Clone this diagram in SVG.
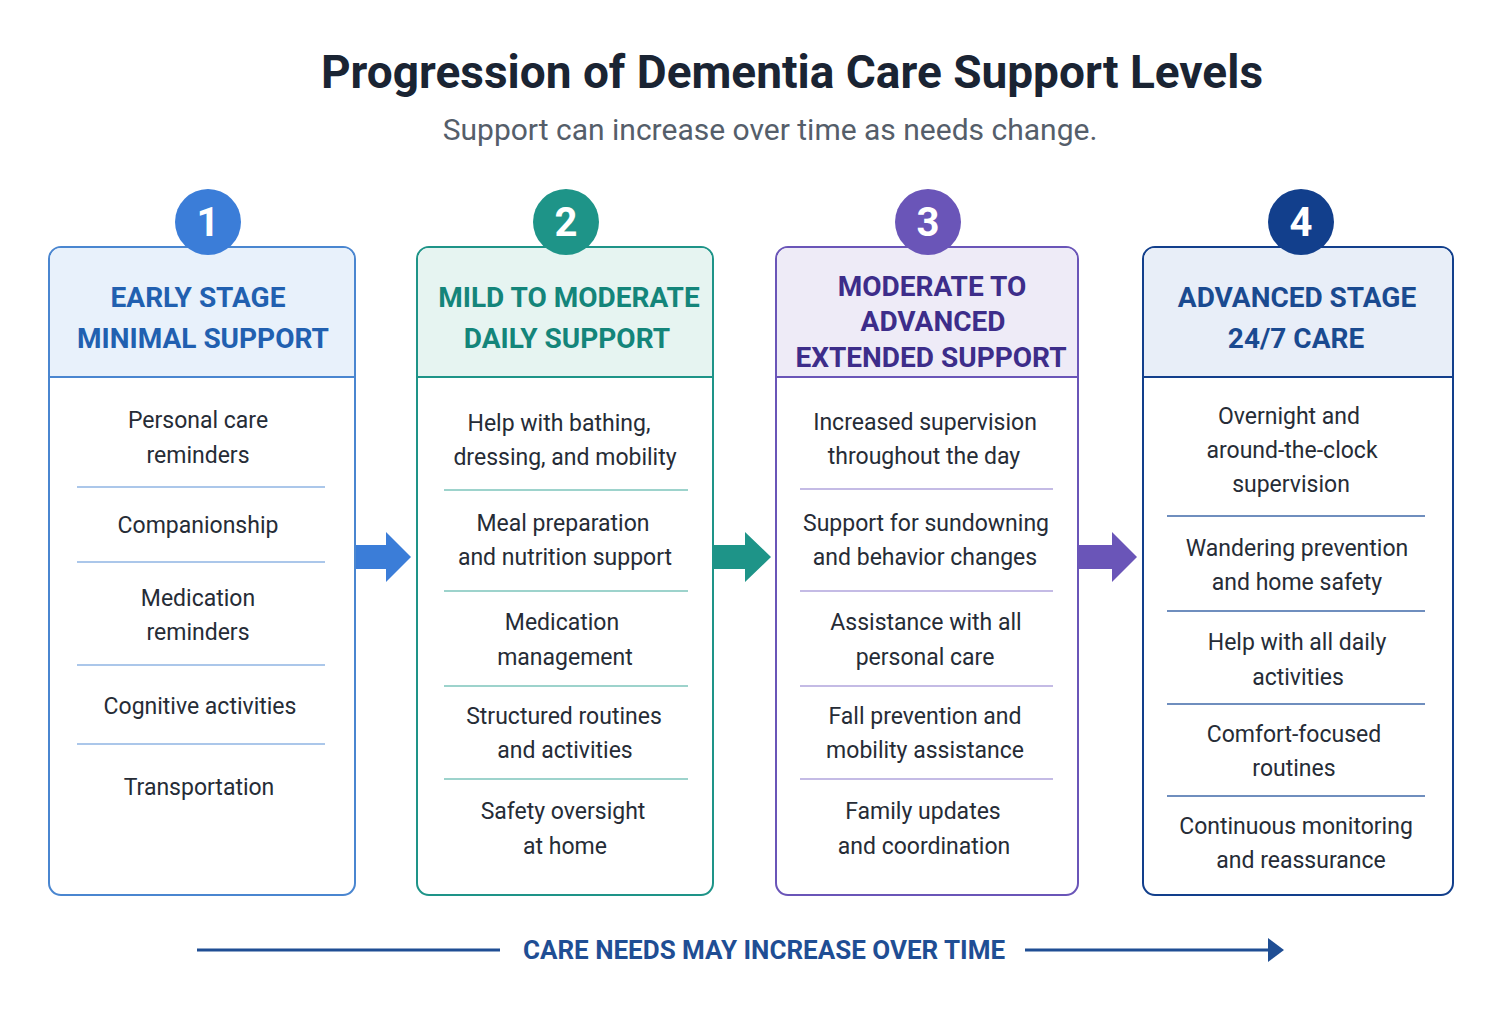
<svg xmlns="http://www.w3.org/2000/svg" width="1504" height="1009" viewBox="0 0 1504 1009">
<style>
text{font-family:Roboto,"Liberation Sans",sans-serif;text-anchor:middle}
.t{font-size:46px;font-weight:bold;fill:#1a2433}
.s{font-size:30px;fill:#555e6a}
.h{font-size:28px;font-weight:bold}
.b{font-size:23px;fill:#262c36}
.n{font-size:40px;font-weight:bold;fill:#fff}
.sep{stroke-width:1.5}
</style>
<rect width="1504" height="1009" fill="#fff"/>
<text class="t" x="792" y="88">Progression of Dementia Care Support Levels</text>
<text class="s" x="770" y="140">Support can increase over time as needs change.</text>

<g id="card1">
<rect x="49" y="247" width="306" height="648" rx="12" fill="#fff" stroke="#4a86d0" stroke-width="2"/>
<path d="M61 248H343A11 11 0 0 1 354 259V377H50V259A11 11 0 0 1 61 248Z" fill="#e8f1fb"/>
<line x1="50" y1="377" x2="354" y2="377" stroke="#4a86d0" stroke-width="2"/>
<circle cx="208" cy="222" r="33" fill="#3b7dd8"/><text class="n" x="208" y="236">1</text>
<g fill="#2160b0"><text class="h" x="198" y="307">EARLY STAGE</text><text class="h" x="203" y="348">MINIMAL SUPPORT</text></g>
<g stroke="#8fb4e3" class="sep"><line x1="77" y1="487" x2="325" y2="487"/><line x1="77" y1="562" x2="325" y2="562"/><line x1="77" y1="665" x2="325" y2="665"/><line x1="77" y1="744" x2="325" y2="744"/></g>
<text class="b" x="198" y="428">Personal care</text><text class="b" x="198" y="463">reminders</text>
<text class="b" x="198" y="533">Companionship</text>
<text class="b" x="198" y="606">Medication</text><text class="b" x="198" y="640">reminders</text>
<text class="b" x="200" y="714">Cognitive activities</text>
<text class="b" x="199" y="795">Transportation</text>
</g>

<g id="card2">
<rect x="417" y="247" width="296" height="648" rx="12" fill="#fff" stroke="#1e9488" stroke-width="2"/>
<path d="M429 248H701A11 11 0 0 1 712 259V377H418V259A11 11 0 0 1 429 248Z" fill="#e6f4f1"/>
<line x1="418" y1="377" x2="712" y2="377" stroke="#1e9488" stroke-width="2"/>
<circle cx="566" cy="222" r="33" fill="#1e9488"/><text class="n" x="566" y="236">2</text>
<g fill="#14857a"><text class="h" x="569" y="307">MILD TO MODERATE</text><text class="h" x="567" y="348">DAILY SUPPORT</text></g>
<g stroke="#7cc4bb" class="sep"><line x1="444" y1="490" x2="688" y2="490"/><line x1="444" y1="591" x2="688" y2="591"/><line x1="444" y1="686" x2="688" y2="686"/><line x1="444" y1="779" x2="688" y2="779"/></g>
<text class="b" x="559" y="431">Help with bathing,</text><text class="b" x="565" y="465">dressing, and mobility</text>
<text class="b" x="563" y="531">Meal preparation</text><text class="b" x="565" y="565">and nutrition support</text>
<text class="b" x="562" y="630">Medication</text><text class="b" x="565" y="665">management</text>
<text class="b" x="564" y="724">Structured routines</text><text class="b" x="565" y="758">and activities</text>
<text class="b" x="563" y="819">Safety oversight</text><text class="b" x="565" y="854">at home</text>
</g>

<g id="card3">
<rect x="776" y="247" width="302" height="648" rx="12" fill="#fff" stroke="#6a55b8" stroke-width="2"/>
<path d="M788 248H1066A11 11 0 0 1 1077 259V377H777V259A11 11 0 0 1 788 248Z" fill="#eeebf7"/>
<line x1="777" y1="377" x2="1077" y2="377" stroke="#6a55b8" stroke-width="2"/>
<circle cx="928" cy="222" r="33" fill="#6a55b8"/><text class="n" x="928" y="236">3</text>
<g fill="#3d2d8a"><text class="h" x="932" y="296">MODERATE TO</text><text class="h" x="933" y="331">ADVANCED</text><text class="h" x="931" y="367">EXTENDED SUPPORT</text></g>
<g stroke="#b0a4dc" class="sep"><line x1="800" y1="489" x2="1053" y2="489"/><line x1="800" y1="591" x2="1053" y2="591"/><line x1="800" y1="686" x2="1053" y2="686"/><line x1="800" y1="779" x2="1053" y2="779"/></g>
<text class="b" x="925" y="430">Increased supervision</text><text class="b" x="924" y="464">throughout the day</text>
<text class="b" x="926" y="531">Support for sundowning</text><text class="b" x="925" y="565">and behavior changes</text>
<text class="b" x="926" y="630">Assistance with all</text><text class="b" x="925" y="665">personal care</text>
<text class="b" x="925" y="724">Fall prevention and</text><text class="b" x="925" y="758">mobility assistance</text>
<text class="b" x="923" y="819">Family updates</text><text class="b" x="924" y="854">and coordination</text>
</g>

<g id="card4">
<rect x="1143" y="247" width="310" height="648" rx="12" fill="#fff" stroke="#123f8c" stroke-width="2"/>
<path d="M1155 248H1441A11 11 0 0 1 1452 259V377H1144V259A11 11 0 0 1 1155 248Z" fill="#e8eef8"/>
<line x1="1144" y1="377" x2="1452" y2="377" stroke="#123f8c" stroke-width="2"/>
<circle cx="1301" cy="222" r="33" fill="#123f8c"/><text class="n" x="1301" y="236">4</text>
<g fill="#1a4a90"><text class="h" x="1297" y="307">ADVANCED STAGE</text><text class="h" x="1296" y="348">24/7 CARE</text></g>
<g stroke="#3f68a8" class="sep"><line x1="1167" y1="516" x2="1425" y2="516"/><line x1="1167" y1="611" x2="1425" y2="611"/><line x1="1167" y1="704" x2="1425" y2="704"/><line x1="1167" y1="796" x2="1425" y2="796"/></g>
<text class="b" x="1289" y="424">Overnight and</text><text class="b" x="1292" y="458">around-the-clock</text><text class="b" x="1291" y="492">supervision</text>
<text class="b" x="1297" y="556">Wandering prevention</text><text class="b" x="1297" y="590">and home safety</text>
<text class="b" x="1297" y="650">Help with all daily</text><text class="b" x="1298" y="685">activities</text>
<text class="b" x="1294" y="742">Comfort-focused</text><text class="b" x="1294" y="776">routines</text>
<text class="b" x="1296" y="834">Continuous monitoring</text><text class="b" x="1301" y="868">and reassurance</text>
</g>

<g id="connectors">
<path d="M356 545H386V532L411 557L386 582V569H356Z" fill="#3b7dd8"/>
<path d="M714 545H745V532L771 557L745 582V569H714Z" fill="#1e9488"/>
<path d="M1079 545H1112V532L1137 557L1112 582V569H1079Z" fill="#6a55b8"/>
<line x1="197" y1="950" x2="500" y2="950" stroke="#1f4e94" stroke-width="3"/>
<line x1="1025" y1="950" x2="1272" y2="950" stroke="#1f4e94" stroke-width="3"/>
<path d="M1268 938L1284 950L1268 962Z" fill="#1f4e94"/>
<text x="764" y="959" font-size="26" font-weight="bold" fill="#1f4e94">CARE NEEDS MAY INCREASE OVER TIME</text>
</g>
</svg>
